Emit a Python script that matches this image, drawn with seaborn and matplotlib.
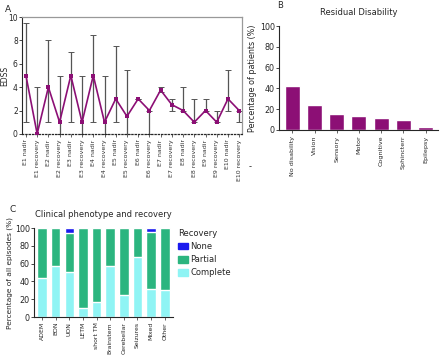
import numpy as np
import pandas as pd
import matplotlib
matplotlib.use("Agg")
import matplotlib.pyplot as plt
import seaborn as sns
from matplotlib.patches import Patch

sns.set_theme(style="ticks")
plt.rcParams['font.family'] = ['DejaVu Sans']

# ---- Panel A data ----
episodes = ["E1 nadir", "E1 recovery", "E2 nadir", "E2 recovery", "E3 nadir", "E3 recovery",
            "E4 nadir", "E4 recovery", "E5 nadir", "E5 recovery", "E6 nadir", "E6 recovery",
            "E7 nadir", "E7 recovery", "E8 nadir", "E8 recovery", "E9 nadir", "E9 recovery",
            "E10 nadir", "E10 recovery"]
edss_median = [5, 0, 4, 1, 5, 1, 5, 1, 3, 1.5, 3, 2, 3.75, 2.5, 2, 1, 2, 1, 3, 2]
edss_low = [1, 0, 1, 0, 1, 0, 1, 0, 1, 0, 3, 0, 3.6, 2, 2, 1, 2, 1, 2, 1]
edss_high = [9.5, 4, 8, 5, 7, 5, 8.5, 5, 7.5, 5.5, 3, 2, 4, 3, 4, 3, 3, 2, 5.5, 2]

# ---- Panel B data ----
disability = ["No disability", "Vision", "Sensory", "Motor", "Cognitive", "Sphincterr", "Epilepsy"]
disability_pct = [42, 24, 15, 13, 11.5, 10, 3]

# ---- Panel C data ----
phenotypes = ["ADEM", "BON", "UON", "LETM", "short TM", "Brainstem", "Cerebellar", "Seizures", "Mixed", "Other"]
complete = [44, 57, 51, 10, 17, 57, 25, 67, 32, 30]
partial = [56, 43, 43, 90, 83, 43, 75, 33, 64, 70]
none_ = [0, 0, 6, 0, 0, 0, 0, 0, 4, 0]

purple = "#8c0f75"
c_none = "#1a1aee"
c_partial = "#2bb57f"
c_complete = "#8ff4f4"

fig = plt.figure(figsize=(4.4, 3.57), dpi=100)

# ---------- Panel A ----------
axA = fig.add_axes([0.05, 0.625, 0.50, 0.327])
dfA = pd.DataFrame({"x": np.arange(len(episodes)), "edss": edss_median})
med = np.array(edss_median)
yerr = np.vstack([med - np.array(edss_low), np.array(edss_high) - med])
axA.errorbar(dfA["x"], med, yerr=yerr, fmt="none", ecolor="#555555", elinewidth=0.9,
             capsize=2, capthick=0.7, zorder=1)
sns.lineplot(data=dfA, x="x", y="edss", ax=axA, color=purple, lw=1.2, marker="s",
             markersize=2.2, markeredgewidth=0, zorder=3)
axA.set_xlim(-0.35, len(episodes) - 0.75)
axA.set_ylim(0, 10)
axA.set_yticks([0, 2, 4, 6, 8, 10])
axA.set_xticks(range(len(episodes)))
axA.set_xticklabels(episodes, rotation=90, fontsize=4.5, color="#333333")
axA.tick_params(axis="y", labelsize=5.5, length=2, width=0.6, pad=1)
axA.tick_params(axis="x", length=2, width=0.5, pad=2)
axA.set_xlabel("")
axA.set_ylabel("EDSS", fontsize=5.5)
axA.yaxis.set_label_coords(-0.058, 0.5)
for s in ["top", "right"]:
    axA.spines[s].set_color("#999999")
    axA.spines[s].set_linewidth(0.9)
axA.spines["left"].set_linewidth(0.8)
axA.spines["bottom"].set_linestyle(":")
axA.spines["bottom"].set_linewidth(0.9)
fig.text(0.012, 0.965, "A", fontsize=6.5)

# ---------- Panel B ----------
axB = fig.add_axes([0.634, 0.636, 0.361, 0.291])
dfB = pd.DataFrame({"cat": disability, "pct": disability_pct})
sns.barplot(data=dfB, x="cat", y="pct", ax=axB, color=purple, saturation=1, width=0.68)
axB.set_ylim(0, 100)
axB.set_yticks([0, 20, 40, 60, 80, 100])
axB.set_xlim(-0.6, len(disability) - 0.45)
axB.tick_params(axis="y", labelsize=5.8, length=2, width=0.6, pad=1)
axB.tick_params(axis="x", labelsize=4.6, length=2, width=0.5, pad=2, rotation=90)
axB.set_xlabel("")
axB.set_ylabel("Percentage of patients (%)", fontsize=5.8, labelpad=2)
axB.set_title("Residual Disability", fontsize=6, pad=8)
sns.despine(ax=axB)
for s in ["left", "bottom"]:
    axB.spines[s].set_linewidth(0.8)
fig.text(0.63, 0.978, "B", fontsize=6)
fig.text(0.565, 0.525, "-", fontsize=6)

# ---------- Panel C ----------
axC = fig.add_axes([0.077, 0.112, 0.316, 0.249])
dfC = pd.DataFrame({"phen": phenotypes, "complete": complete, "partial": partial, "none": none_})
dfC["cp"] = dfC["complete"] + dfC["partial"]
dfC["all"] = dfC["cp"] + dfC["none"]
sns.barplot(data=dfC, x="phen", y="all", ax=axC, color=c_none, saturation=1, width=0.7)
sns.barplot(data=dfC, x="phen", y="cp", ax=axC, color=c_partial, saturation=1, width=0.7)
sns.barplot(data=dfC, x="phen", y="complete", ax=axC, color=c_complete, saturation=1, width=0.7)
axC.set_ylim(0, 100)
axC.set_yticks([0, 20, 40, 60, 80, 100])
axC.set_xlim(-0.6, len(phenotypes) - 0.4)
axC.tick_params(axis="y", labelsize=5.8, length=2, width=0.6, pad=1)
axC.tick_params(axis="x", labelsize=4.4, length=2, width=0.5, pad=1.5, rotation=90)
axC.set_xlabel("")
axC.set_ylabel("Percentage of all episodes (%)", fontsize=5.3, labelpad=1)
axC.set_title("Clinical phenotype and recovery", fontsize=6, pad=8)
sns.despine(ax=axC)
for s in ["left", "bottom"]:
    axC.spines[s].set_linewidth(0.8)
fig.text(0.022, 0.405, "C", fontsize=6.5)

handles = [Patch(color=c_none, label="None"), Patch(color=c_partial, label="Partial"),
           Patch(color=c_complete, label="Complete")]
leg = fig.legend(handles=handles, title="Recovery", loc="upper left",
                 bbox_to_anchor=(0.397, 0.368), frameon=False, fontsize=6,
                 title_fontsize=6, handlelength=1.2, handleheight=0.8,
                 labelspacing=0.5, borderaxespad=0, handletextpad=0.3)
leg._legend_box.align = "left"

fig.savefig("out.png", dpi=100)
